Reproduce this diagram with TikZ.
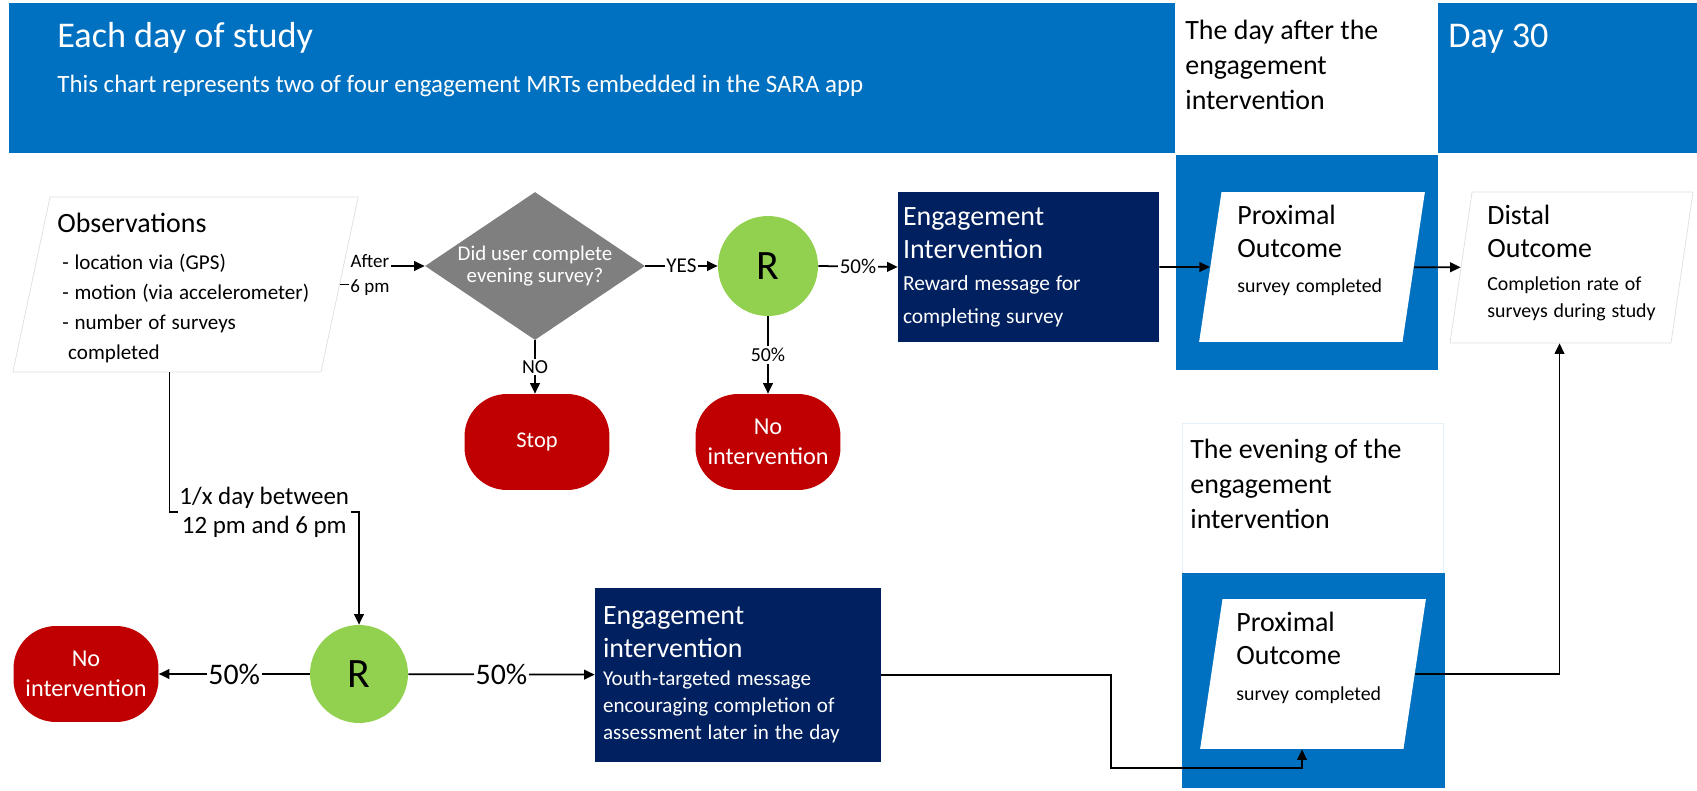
\documentclass[tikz,border=0pt]{standalone}
\usepackage{fontspec}
\setmainfont{Carlito}
\usetikzlibrary{arrows.meta,calc,shapes.geometric}

\definecolor{sarablue}{HTML}{0070C0}
\definecolor{saranavy}{HTML}{002060}
\definecolor{stopred}{HTML}{C00000}
\definecolor{randgreen}{HTML}{92D050}
\definecolor{decgray}{HTML}{7F7F7F}

\newcommand{\titletxt}{\fontsize{20.6}{24}\selectfont}
\newcommand{\subtxt}{\fontsize{14.2}{17}\selectfont}
\newcommand{\bigtxt}{\fontsize{15.9}{18.8}\selectfont}
\newcommand{\medtxt}{\fontsize{12}{17}\selectfont}
\newcommand{\smalltxt}{\fontsize{11.3}{15.5}\selectfont}

\tikzset{
    headtext/.style={
        anchor=base west,
        inner sep=0pt,
        text=white
    },
    phasetext/.style={
        anchor=north west,
        inner sep=0pt,
        align=left,
        font=\fontsize{15.9}{19.8}\selectfont
    },
    boxtext/.style={
        anchor=north west,
        inner sep=0pt,
        align=left
    },
    databox/.style={
        trapezium,
        draw=gray!25,
        fill=white,
        inner sep=0pt,
        text depth=0pt
    },
    decision/.style={
        diamond,
        shape aspect=1.486,
        fill=decgray,
        text=white,
        minimum width=4.4cm,
        minimum height=2.96cm,
        inner sep=0pt,
        align=center,
        font=\fontsize{11.9}{13}\selectfont
    },
    randnode/.style={
        circle,
        fill=randgreen,
        minimum size=2cm,
        inner sep=0pt,
        font=\fontsize{23.8}{28}\selectfont
    },
    endnode/.style={
        rectangle,
        rounded corners=0.85cm,
        fill=stopred,
        text=white,
        minimum width=2.9cm,
        minimum height=1.92cm,
        inner sep=2pt,
        align=center,
        font=\fontsize{12.8}{17}\selectfont
    },
    intervbox/.style={
        rectangle,
        fill=saranavy,
        text=white,
        align=left,
        inner ysep=0pt
    },
    lbl/.style={
        fill=white,
        inner sep=1pt,
        align=center,
        font=\fontsize{12}{14}\selectfont
    },
    arrow/.style={
        -{Triangle[length=6pt,width=5.5pt]},
        line width=1pt
    }
}

\begin{document}
\begin{tikzpicture}[x=0.02cm, y=-0.02cm]
    \useasboundingbox (0,0) rectangle (1697,791);

    % Header band
    \fill[sarablue] (9,3) rectangle (1697,153);
    \fill[white] (1175,3) rectangle (1438,153);
    \node[headtext, font=\titletxt] (title) at (57,47) {Each day of study};
    \node[headtext, font=\subtxt] (subtitle) at (57,92) {This chart represents two of four engagement MRTs embedded in the SARA app};
    \node[phasetext] (dayafter) at (1185,20) {The day after the\\engagement\\intervention};
    \node[headtext, font=\titletxt] (daythirty) at (1448,47) {Day 30};

    % Phase columns
    \fill[sarablue] (1176,155) rectangle (1438,370);
    \filldraw[draw=sarablue!10, fill=white] (1182,423) rectangle (1443,573);
    \fill[sarablue] (1182,573) rectangle (1445,788);
    \node[phasetext] (evening) at (1190,439) {The evening of the\\engagement\\intervention};

    % Evening branch
    \node[databox, text width=5.42cm, text height=3.5cm,
          trapezium left angle=78, trapezium right angle=102] (obs) at (185.5,284.5) {};
    \node[boxtext, text width=6cm] (obsText) at (57,213)
        {{\bigtxt Observations\par}\vspace{4pt}
         {\medtxt\leftskip=2.8pt - location via (GPS)\\- motion (via accelerometer)\\- number of surveys\\\hspace*{3.4pt}completed\par}};

    \node[decision] (dec) at (535,266) {Did user complete\\evening survey?};
    \node[randnode] (rtop) at (768,266) {R};
    \node[endnode] (stop) at (537,442) {Stop};
    \node[endnode, font=\fontsize{13.8}{17}\selectfont] (noint1) at (768,442) {No\\intervention};
    \node[intervbox, text width=5.02cm, inner xsep=0.1cm, minimum height=3cm] (ei1) at (1028.5,267)
        {{\bigtxt Engagement\\Intervention\par}
         {\fontsize{12.2}{18.5}\selectfont Reward message for\\completing survey\par}};

    \node[databox, draw=none, text width=3.62cm, text height=3cm,
          trapezium left angle=81.5, trapezium right angle=98.5] (prox1) at (1312,267) {};
    \node[boxtext, text width=3.6cm] (prox1Text) at (1237,205)
        {{\bigtxt Proximal\\Outcome\par}\vspace{4pt}{\smalltxt survey completed\par}};

    \node[databox, text width=3.98cm, text height=3.02cm,
          trapezium left angle=81.7, trapezium right angle=98.3] (distal) at (1571.5,267.5) {};
    \node[boxtext, text width=4cm] (distalText) at (1487,205)
        {{\bigtxt Distal\\Outcome\par}\vspace{3pt}{\smalltxt Completion rate of\\surveys during study\par}};

    % Afternoon branch
    \node[randnode, minimum size=1.96cm] (rbot) at (359,674) {R};
    \node[endnode, font=\fontsize{13.8}{17}\selectfont] (noint2) at (86,674) {No\\intervention};
    \node[intervbox, text width=5.4cm, inner xsep=0.16cm, minimum height=3.48cm] (ei2) at (738,675)
        {{\bigtxt Engagement\\intervention\par}
         {\fontsize{12}{15.5}\selectfont Youth-targeted message\\encouraging completion of\\assessment later in the day\par}};

    \node[databox, draw=none, text width=3.62cm, text height=3cm,
          trapezium left angle=81.5, trapezium right angle=98.5] (prox2) at (1313,674) {};
    \node[boxtext, text width=3.6cm] (prox2Text) at (1236,612)
        {{\bigtxt Proximal\\Outcome\par}\vspace{5pt}{\smalltxt survey completed\par}};

    % Connectors
    \draw[arrow] (obs.east) -- ++(30,0) |- node[pos=0.25, lbl, font=\fontsize{10.8}{14}\selectfont] {After\\6 pm} (dec.west);
    \draw[arrow] (dec.east) -- node[lbl] {YES} (rtop.west);
    \draw[arrow] (rtop.east) -- node[lbl] {50\%} (ei1.west);
    \draw[arrow] (dec.south) -- node[lbl, font=\smalltxt] {NO} (dec.south |- stop.north);
    \draw[arrow] (rtop.south) -- node[lbl, font=\smalltxt] {50\%} (noint1.north);
    \draw[arrow] (ei1) -- (prox1);
    \draw[arrow] (prox1) -- (distal);

    \coordinate (obsfoot) at ($(obs.south)+(-16,0)$);
    \draw[arrow] (obsfoot) -- ++(0,140) -| node[pos=0.25, lbl, font=\fontsize{14.2}{17}\selectfont]
        {1/x day between\\12 pm and 6 pm} (rbot.north);
    \draw[arrow] (rbot) -- node[lbl, font=\fontsize{17}{20}\selectfont] {50\%} (noint2);
    \draw[arrow] (rbot) -- node[lbl, font=\fontsize{17}{20}\selectfont] {50\%} (ei2);
    \draw[arrow] (ei2.east) -- ++(230,0) -- ++(0,93) -| ($(prox2.south)+(-11,0)$);
    \draw[arrow] (prox2.east) -| ($(distal.south)+(-12,0)$);
\end{tikzpicture}
\end{document}
